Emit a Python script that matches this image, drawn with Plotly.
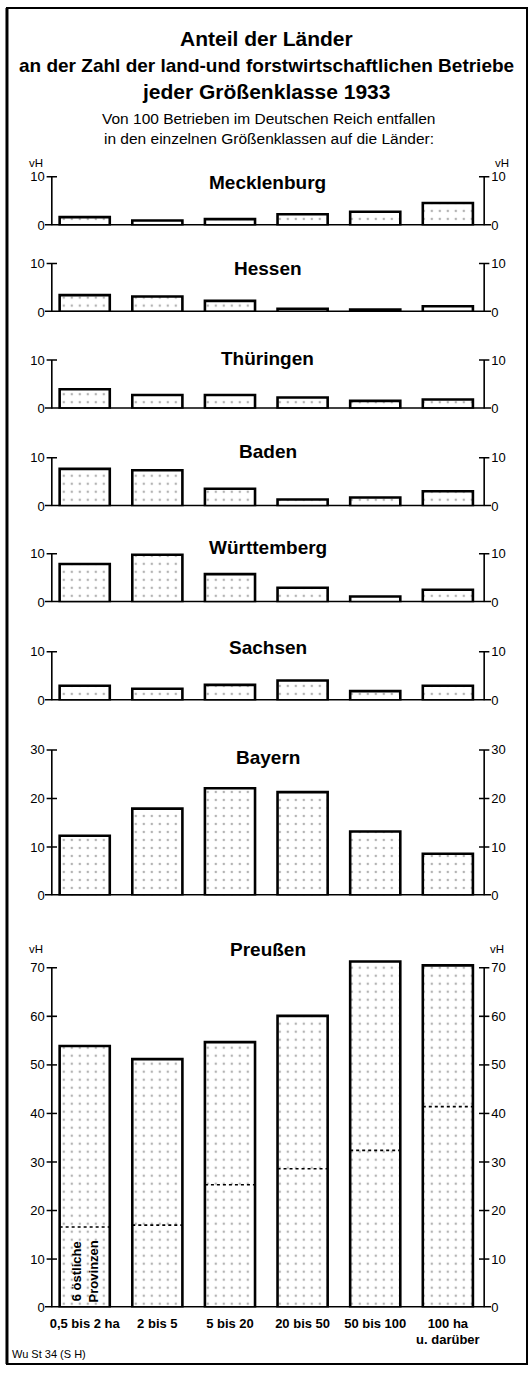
import plotly.graph_objects as go

W, H = 530, 1378

# ---------------- data ----------------
categories = ["0,5 bis 2 ha", "2 bis 5", "5 bis 20", "20 bis 50", "50 bis 100", "100 ha<br>u. darüber"]
laender = ["Mecklenburg", "Hessen", "Thüringen", "Baden", "Württemberg", "Sachsen", "Bayern", "Preußen"]
mecklenburg = [1.7, 1.0, 1.3, 2.3, 2.8, 4.6]
hessen = [3.5, 3.2, 2.3, 0.7, 0.5, 1.2]
thueringen = [4.0, 2.8, 2.8, 2.3, 1.6, 1.9]
baden = [7.7, 7.4, 3.6, 1.4, 1.8, 3.1]
wuerttemberg = [7.9, 9.8, 5.8, 3.0, 1.2, 2.6]
sachsen = [3.0, 2.4, 3.2, 4.1, 1.9, 3.0]
bayern = [12.3, 17.9, 22.1, 21.3, 13.2, 8.6]
preussen = [53.9, 51.2, 54.7, 60.1, 71.3, 70.5]
preussen_oestl = [16.6, 17.0, 25.3, 28.6, 32.4, 41.4]   # davon 6 östliche Provinzen
axis_tops = [10, 10, 10, 10, 10, 10, 30, 70]

series = [mecklenburg, hessen, thueringen, baden, wuerttemberg, sachsen, bayern, preussen]

# ---------------- layout geometry (pixels) ----------------
PXU = 4.9                      # pixels per vH unit
baselines = [222.5, 310, 407.5, 506, 603, 702, 899, 1315]
range_tops = [10.4] * 6 + [30.4, 72.5]
title_y = [179, 266, 357, 451, 548, 649, 760, 953]
X_LEFT, X_RIGHT = 50, 484
BW = 0.69

FONT = "Liberation Sans"


def px(x):
    return x / W


def py(y):
    return 1 - y / H


xs = list(range(len(categories)))

fig = go.Figure()
shapes = []
annotations = []
layout = dict(
    width=W, height=H,
    margin=dict(l=0, r=0, t=0, b=0),
    paper_bgcolor="white", plot_bgcolor="rgba(0,0,0,0)",
    showlegend=False,
    font=dict(family=FONT, color="black"),
)

layout["xaxis"] = dict(
    domain=[px(X_LEFT), px(X_RIGHT)], range=[-0.453, 5.50], anchor="y8",
    tickvals=xs, ticktext=categories, showgrid=False, zeroline=False,
    showline=False, ticks="", ticklabelstandoff=6,
    tickfont=dict(family=FONT, size=13, color="black", weight="bold"),
    fixedrange=True,
)

for i, vals in enumerate(series):
    yl = "y" if i == 0 else f"y{i+1}"
    yr = f"y{i+9}"
    fig.add_trace(go.Bar(
        x=xs, y=vals, xaxis="x", yaxis=yl, width=BW,
        marker=dict(color="white", line=dict(color="black", width=2.6),
                    pattern=dict(shape=".", fgcolor="#666", bgcolor="white",
                                 size=8, solidity=0.08)),
        showlegend=False, hoverinfo="skip",
    ))
    fig.add_trace(go.Scatter(
        x=xs, y=vals, xaxis="x", yaxis=yr, mode="markers",
        marker=dict(opacity=0), showlegend=False, hoverinfo="skip",
    ))

    b = baselines[i]
    top_px = b - range_tops[i] * PXU
    dom = [py(b), py(top_px)]
    tv = list(range(0, axis_tops[i] + 1, 10))
    tt = [str(v) for v in tv]
    key = "yaxis" if i == 0 else f"yaxis{i+1}"
    common = dict(range=[0, range_tops[i]], tickvals=tv, ticktext=tt,
                  showgrid=False, zeroline=False, showline=False, ticks="",
                  tickfont=dict(family=FONT, size=13, color="black"),
                  ticklabelstandoff=6, fixedrange=True)
    layout[key] = dict(domain=dom, anchor="x", **common)
    layout[f"yaxis{i+9}"] = dict(overlaying=yl, side="right", anchor="x", **common)

    # axis lines
    for xd in (0, 1):
        shapes.append(dict(type="line", xref="x domain", yref=yl, x0=xd, x1=xd,
                           y0=0, y1=axis_tops[i], line=dict(color="black", width=1.6)))
        for v in tv[1:]:
            shapes.append(dict(type="line", xref="x domain", yref=yl,
                               x0=xd - 0.012, x1=xd + 0.012, y0=v, y1=v,
                               line=dict(color="black", width=1.5)))
    # baseline
    shapes.append(dict(type="line", xref="x domain", yref=yl, x0=-0.016, x1=1.016,
                       y0=0, y1=0, line=dict(color="black", width=3)))

    # panel title
    annotations.append(dict(text=laender[i], xref="paper", yref="paper",
                            x=px((X_LEFT + X_RIGHT) / 2), y=py(title_y[i]),
                            xanchor="center", yanchor="middle", showarrow=False,
                            font=dict(family=FONT, size=19, color="black", weight="bold")))

# dotted lines for the 6 eastern provinces (Preußen)
for j, v in enumerate(preussen_oestl):
    shapes.append(dict(type="line", xref="x", yref="y8", x0=xs[j] - BW / 2, x1=xs[j] + BW / 2,
                       y0=v, y1=v, line=dict(color="black", width=1.6, dash="dot")))

annotations.append(dict(text="6 östliche<br>Provinzen", xref="x", yref="y8", x=0, y=7.4,
                        textangle=-90, showarrow=False, xanchor="center", yanchor="middle",
                        font=dict(family=FONT, size=13, color="black", weight="bold")))

# titles
title_lines = [("Anteil der Länder", 34, 21), ("an der Zahl der land-und forstwirtschaftlichen Betriebe", 61, 19),
               ("jeder Größenklasse 1933", 87, 21)]
for t, yy, fs in title_lines:
    annotations.append(dict(text=t, xref="paper", yref="paper", x=0.5, y=py(yy),
                            xanchor="center", yanchor="middle", showarrow=False,
                            font=dict(family=FONT, size=fs, color="black", weight="bold")))
sub_lines = [("Von 100 Betrieben im Deutschen Reich entfallen", 115),
             ("in den einzelnen Größenklassen auf die Länder:", 135)]
for t, yy in sub_lines:
    annotations.append(dict(text=t, xref="paper", yref="paper", x=px(268), y=py(yy),
                            xanchor="center", yanchor="middle", showarrow=False,
                            font=dict(family=FONT, size=15.5, color="black")))

# vH unit labels
for (xx, yy) in [(34, 160), (502, 160), (34, 953), (497, 953)]:
    annotations.append(dict(text="vH", xref="paper", yref="paper", x=px(xx), y=py(yy),
                            xanchor="center", yanchor="middle", showarrow=False,
                            font=dict(family=FONT, size=11.5, color="black")))

annotations.append(dict(text="Wu St 34 (S H)", xref="paper", yref="paper", x=px(8), y=py(1362),
                        xanchor="left", yanchor="middle", showarrow=False,
                        font=dict(family=FONT, size=11, color="black")))

# frame
shapes.append(dict(type="rect", xref="paper", yref="paper", x0=px(5), x1=px(527),
                   y0=py(1372), y1=py(3), line=dict(color="black", width=2)))
shapes.append(dict(type="line", xref="paper", yref="paper", x0=px(5), x1=px(5),
                   y0=py(1372), y1=py(3), line=dict(color="black", width=3)))

layout["shapes"] = shapes
layout["annotations"] = annotations
fig.update_layout(**layout)

fig.write_html("out.html", config={"displayModeBar": False},
               post_script="document.body.style.margin='0';")
